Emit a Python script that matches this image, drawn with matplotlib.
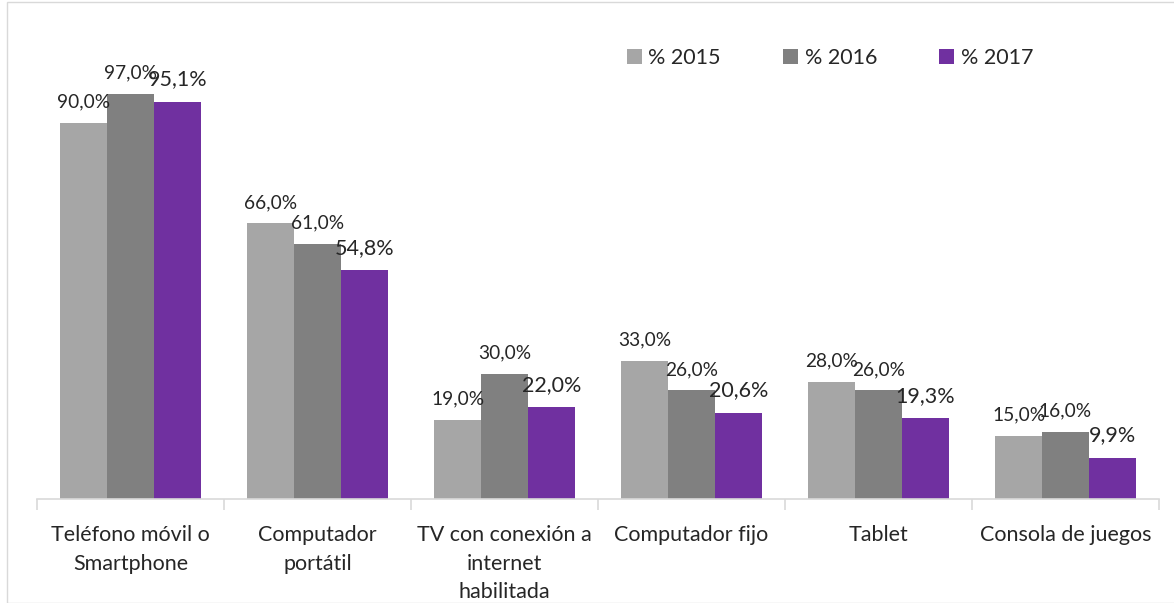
import matplotlib
matplotlib.use("Agg")
import matplotlib.pyplot as plt
import numpy as np
from matplotlib.patches import Rectangle

categories = ["Teléfono móvil o\nSmartphone", "Computador\nportátil",
              "TV con conexión a\ninternet\nhabilitada", "Computador fijo",
              "Tablet", "Consola de juegos"]
v2015 = [90.0, 66.0, 19.0, 33.0, 28.0, 15.0]
v2016 = [97.0, 61.0, 30.0, 26.0, 26.0, 16.0]
v2017 = [95.1, 54.8, 22.0, 20.6, 19.3, 9.9]
series_names = ["% 2015", "% 2016", "% 2017"]

colors = ["#a6a6a6", "#808080", "#7030a0"]
label_sizes = [13.8, 13.8, 15.5]
txt = "#262626"

plt.rcParams['font.family'] = ['Lato', 'DejaVu Sans']

W, H = 1174, 603
fig = plt.figure(figsize=(W/100, H/100), dpi=100)
fig.patches.append(Rectangle((7/W, 0), 1.2, 1 - 2/H, transform=fig.transFigure,
                             fill=False, edgecolor="#d9d9d9", linewidth=1.0))
ax = fig.add_axes([37/W, 1 - 499/H, (1159-37)/W, (499-20)/H])

x = np.arange(len(categories))
bw = 0.25
handles = []
for i, (vals, c, ls) in enumerate(zip([v2015, v2016, v2017], colors, label_sizes)):
    pos = x + (i - 1) * bw
    b = ax.bar(pos, vals, width=bw, color=c, label=series_names[i], zorder=2)
    handles.append(b)
    for px, v in zip(pos, vals):
        ax.annotate(f"{v:.1f}%".replace(".", ","), (px, v), xytext=(0, 9),
                    textcoords="offset points", ha="center", va="bottom",
                    fontsize=ls, color=txt)

ax.set_xlim(-0.5, len(categories) - 0.5)
ax.set_ylim(0, 114.7)
ax.set_yticks([])
for s in ["top", "right", "left"]:
    ax.spines[s].set_visible(False)
ax.spines["bottom"].set_color("#d9d9d9")
ax.spines["bottom"].set_linewidth(1.2)
ax.set_xticks(x)
ax.set_xticklabels(categories, fontsize=15.5, color=txt, linespacing=1.53)
ax.tick_params(axis="x", which="major", length=0, pad=19)
ax.set_xticks(np.arange(-0.5, len(categories), 1.0), minor=True)
ax.tick_params(axis="x", which="minor", length=8, color="#d9d9d9", width=1.2)

fig.legend(handles=handles, labels=series_names, loc="center",
           bbox_to_anchor=(830/W, 1 - 58/H), ncol=3, frameon=False,
           fontsize=15.5, handlelength=0.7, handleheight=0.7,
           handletextpad=0.3, columnspacing=2.9, labelcolor=txt)

fig.savefig("out.png", dpi=100)
